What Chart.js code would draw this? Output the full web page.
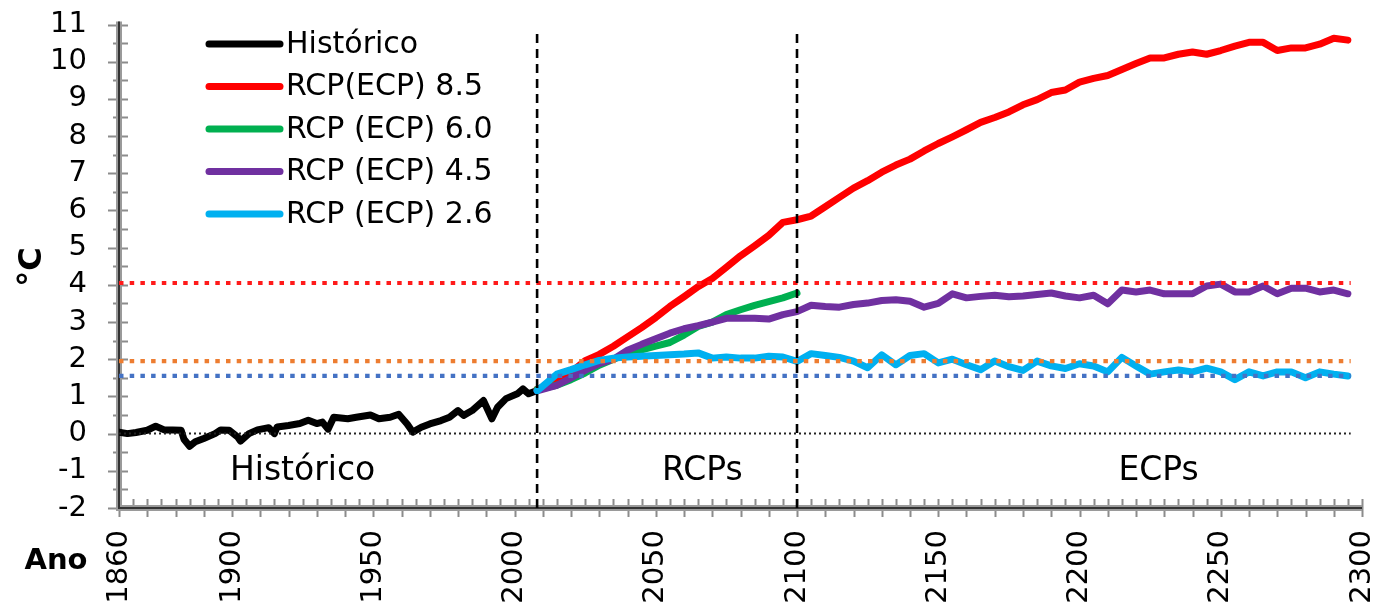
<!DOCTYPE html>
<html>
<head>
<meta charset="utf-8">
<script src="https://cdn.jsdelivr.net/npm/chart.js@4/dist/chart.umd.min.js"></script>
<style>
html,body{margin:0;padding:0;background:#fff;}
canvas{display:block;}
</style>
</head>
<body>
<canvas id="c" width="1383" height="612"></canvas>
<script>
// ---------- DATA ----------
const xTickValues = [1860, 1900, 1950, 2000, 2050, 2100, 2150, 2200, 2250, 2300];
const yTickMin = -2, yTickMax = 11;

const histYears = [1860,1863,1866,1870,1873,1876,1879,1882,1883,1885,1887,1890,1894,1896,1899,1902,1903,1906,1909,1913,1915,1916,1920,1924,1927,1930,1932,1934,1936,1941,1944,1949,1952,1956,1959,1962,1964,1967,1970,1974,1977,1980,1982,1985,1989,1992,1994,1997,2001,2003,2005,2008];
const histValues = [0.04,0.0,0.03,0.09,0.2,0.1,0.1,0.09,-0.15,-0.34,-0.22,-0.13,0.0,0.1,0.09,-0.09,-0.2,0.0,0.1,0.16,0.0,0.18,0.22,0.27,0.36,0.27,0.31,0.12,0.44,0.4,0.44,0.5,0.4,0.44,0.52,0.26,0.04,0.17,0.26,0.35,0.44,0.62,0.49,0.62,0.89,0.4,0.71,0.94,1.07,1.2,1.07,1.16];

const projYears = [2008,2015,2020,2025,2030,2035,2040,2045,2050,2055,2060,2065,2070,2075,2080,2085,2090,2095,2100,
  2105,2110,2115,2120,2125,2130,2135,2140,2145,2150,2155,2160,2165,2170,2175,2180,2185,2190,2195,2200,
  2205,2210,2215,2220,2225,2230,2235,2240,2245,2250,2255,2260,2265,2270,2275,2280,2285,2290,2295];

const rcp85 = [1.19,1.4,1.65,1.96,2.13,2.35,2.6,2.85,3.12,3.42,3.68,3.95,4.17,4.47,4.78,5.05,5.33,5.68,5.75,
  5.85,6.1,6.35,6.6,6.8,7.03,7.22,7.38,7.6,7.8,
  7.98,8.17,8.37,8.5,8.65,8.84,8.98,9.17,9.24,9.45,
  9.55,9.63,9.79,9.95,10.1,10.1,10.2,10.26,10.2,10.3,
  10.42,10.52,10.52,10.3,10.37,10.37,10.47,10.63,10.58];
const rcp60 = [1.19,1.3,1.45,1.63,1.84,2.0,2.14,2.25,2.35,2.45,2.65,2.88,3.0,3.2,3.33,3.45,3.55,3.65,3.78];
const rcp45 = [1.15,1.3,1.5,1.7,1.88,2.0,2.24,2.4,2.55,2.7,2.82,2.9,3.0,3.1,3.1,3.1,3.08,3.2,3.28,
  3.45,3.42,3.4,3.47,3.51,3.58,3.6,3.56,3.4,3.5,
  3.76,3.65,3.69,3.72,3.68,3.7,3.74,3.78,3.7,3.65,
  3.72,3.49,3.86,3.81,3.86,3.76,3.76,3.76,3.97,4.02,
  3.81,3.81,3.97,3.76,3.91,3.91,3.81,3.86,3.76];
const rcp26 = [1.15,1.6,1.72,1.85,1.97,2.03,2.06,2.08,2.1,2.12,2.14,2.17,2.03,2.06,2.03,2.03,2.08,2.06,1.94,
  2.15,2.1,2.05,1.95,1.77,2.12,1.85,2.1,2.15,1.9,
  2.0,1.85,1.72,1.95,1.8,1.7,1.95,1.82,1.75,1.88,
  1.82,1.66,2.05,1.82,1.6,1.66,1.71,1.66,1.76,1.66,
  1.45,1.66,1.55,1.66,1.66,1.5,1.66,1.6,1.55];

const seriesLabels = ['Histórico', 'RCP(ECP) 8.5', 'RCP (ECP) 6.0', 'RCP (ECP) 4.5', 'RCP (ECP) 2.6'];
const seriesColors = ['#000000', '#ff0000', '#00b050', '#7030a0', '#00b0f0'];

// reference levels (horizontal dotted lines)
const refLevels = [4.05, 1.95, 1.55, 0];
const refColors = ['#ff1a1a', '#ed7d31', '#4472c4', '#222222'];
const refRange = [1860, 2296];

// period dividers (vertical dashed lines)
const dividerYears = [2008, 2100];
const dividerRange = [-2, 10.8];

// period labels
const periodLabels = ['Histórico', 'RCPs', 'ECPs'];
const periodX = [1925, 2066.5, 2228];
const periodY = -1.02;

const yAxisTitle = '°C';
const xAxisTitle = 'Ano';

// ---------- BUILD ----------
const FONT = "'DejaVu Sans', Verdana, sans-serif";
const toPts = (xs, ys) => ys.map((v, i) => ({x: xs[i], y: v}));

const seriesData = [
  toPts(histYears, histValues),
  toPts(projYears, rcp85),
  toPts(projYears, rcp60),
  toPts(projYears, rcp45),
  toPts(projYears, rcp26)
];
const seriesOrder = [5, 4, 3, 2, 1];

const datasets = [];
seriesData.forEach((d, i) => {
  datasets.push({
    label: seriesLabels[i], data: d, isSeries: true,
    borderColor: seriesColors[i], backgroundColor: seriesColors[i],
    borderWidth: 7, pointRadius: 0, tension: 0, fill: false,
    borderJoinStyle: 'round', borderCapStyle: 'round',
    order: seriesOrder[i]
  });
});
refLevels.forEach((lv, i) => {
  const isZero = lv === 0;
  datasets.push({
    label: 'ref' + i, data: [{x: refRange[0], y: lv}, {x: refRange[1], y: lv}],
    borderColor: refColors[i], borderWidth: isZero ? 2 : 4.2,
    borderDash: isZero ? [2, 3] : [4.5, 6.2], pointRadius: 0, fill: false, order: 0
  });
});
dividerYears.forEach((yr, i) => {
  datasets.push({
    label: 'div' + i, data: [{x: yr, y: dividerRange[0]}, {x: yr, y: dividerRange[1]}],
    borderColor: '#000', borderWidth: 2.6, borderDash: [9, 6],
    pointRadius: 0, fill: false, order: -1, clip: false
  });
});

const decorPlugin = {
  id: 'decor',
  beforeDatasetsDraw(chart) {
    const {ctx, scales: {x, y}} = chart;
    const x0 = x.getPixelForValue(1860), x1 = x.getPixelForValue(2300);
    const yb = y.getPixelForValue(-2), yt = y.getPixelForValue(11);
    ctx.save();
    // tick marks
    ctx.strokeStyle = '#8c8c8c';
    ctx.lineWidth = 2;
    ctx.beginPath();
    for (let v = -2; v <= 11.001; v += 0.5) {
      const py = Math.round(y.getPixelForValue(v)) + 0.5;
      const major = Math.abs(v - Math.round(v)) < 0.01;
      ctx.moveTo(x0 - (major ? 11 : 6), py);
      ctx.lineTo(x0 + 9, py);
    }
    for (let v = 1860; v <= 2300; v += 5) {
      const px = Math.round(x.getPixelForValue(v)) + 0.5;
      const major = v % 10 === 0;
      ctx.moveTo(px, yb - 9);
      ctx.lineTo(px, yb + (major ? 9 : 2));
    }
    ctx.stroke();
    // axis lines (gray band with dark core)
    ctx.lineCap = 'butt';
    ctx.strokeStyle = '#9a9a9a';
    ctx.lineWidth = 6;
    ctx.beginPath();
    ctx.moveTo(x0, yt - 3); ctx.lineTo(x0, yb + 3);
    ctx.moveTo(x0 - 3, yb); ctx.lineTo(x1, yb);
    ctx.stroke();
    ctx.strokeStyle = '#333';
    ctx.lineWidth = 2;
    ctx.beginPath();
    ctx.moveTo(x0, yt - 3); ctx.lineTo(x0, yb);
    ctx.lineTo(x1, yb);
    ctx.stroke();
    ctx.restore();
  },
  afterDatasetsDraw(chart) {
    const {ctx, scales: {x, y}} = chart;
    ctx.save();
    ctx.fillStyle = '#000';
    // period labels
    ctx.font = '33px ' + FONT;
    ctx.textAlign = 'center';
    ctx.textBaseline = 'middle';
    periodLabels.forEach((t, i) => {
      ctx.fillText(t, x.getPixelForValue(periodX[i]), y.getPixelForValue(periodY));
    });
    // legend
    const lx0 = 209, lx1 = 280, ly0 = 44, lstep = 42.5;
    ctx.font = '30px ' + FONT;
    ctx.textAlign = 'left';
    chart.data.datasets.filter(d => d.isSeries).forEach((d, i) => {
      const ly = ly0 + i * lstep;
      ctx.strokeStyle = d.borderColor;
      ctx.lineWidth = 7;
      ctx.lineCap = 'round';
      ctx.beginPath();
      ctx.moveTo(lx0, ly); ctx.lineTo(lx1, ly);
      ctx.stroke();
      ctx.fillText(d.label, 286, ly + 1);
    });
    // axis titles
    ctx.font = 'bold 29px ' + FONT;
    ctx.textAlign = 'center';
    ctx.fillText(xAxisTitle, 56, 561);
    ctx.save();
    ctx.translate(33, 267);
    ctx.rotate(-Math.PI / 2);
    ctx.font = 'bold 32px ' + FONT;
    ctx.fillText(yAxisTitle, 0, 0);
    ctx.restore();
    ctx.restore();
  }
};

new Chart(document.getElementById('c'), {
  type: 'line',
  data: {datasets},
  plugins: [decorPlugin],
  options: {
    responsive: false,
    animation: false,
    layout: {padding: {top: 24.5, right: 21, left: 0, bottom: 0}},
    plugins: {legend: {display: false}, tooltip: {enabled: false}},
    scales: {
      x: {
        type: 'linear', min: 1860, max: 2300,
        afterBuildTicks: s => { s.ticks = xTickValues.map(v => ({value: v})); },
        afterFit: s => { s.height = 104; s.paddingLeft = 0; s.paddingRight = 0; },
        ticks: {
          autoSkip: false, minRotation: 90, maxRotation: 90, padding: 22,
          color: '#000', font: {family: FONT, size: 29},
          callback: v => String(v)
        },
        grid: {display: false, drawTicks: false},
        border: {display: false}
      },
      y: {
        min: yTickMin, max: yTickMax,
        afterFit: s => { s.width = 119; s.paddingTop = 0; s.paddingBottom = 0; },
        ticks: {stepSize: 1, autoSkip: false, padding: 32, color: '#000', font: {family: FONT, size: 29}},
        grid: {display: false, drawTicks: false},
        border: {display: false}
      }
    }
  }
});
</script>
</body>
</html>
